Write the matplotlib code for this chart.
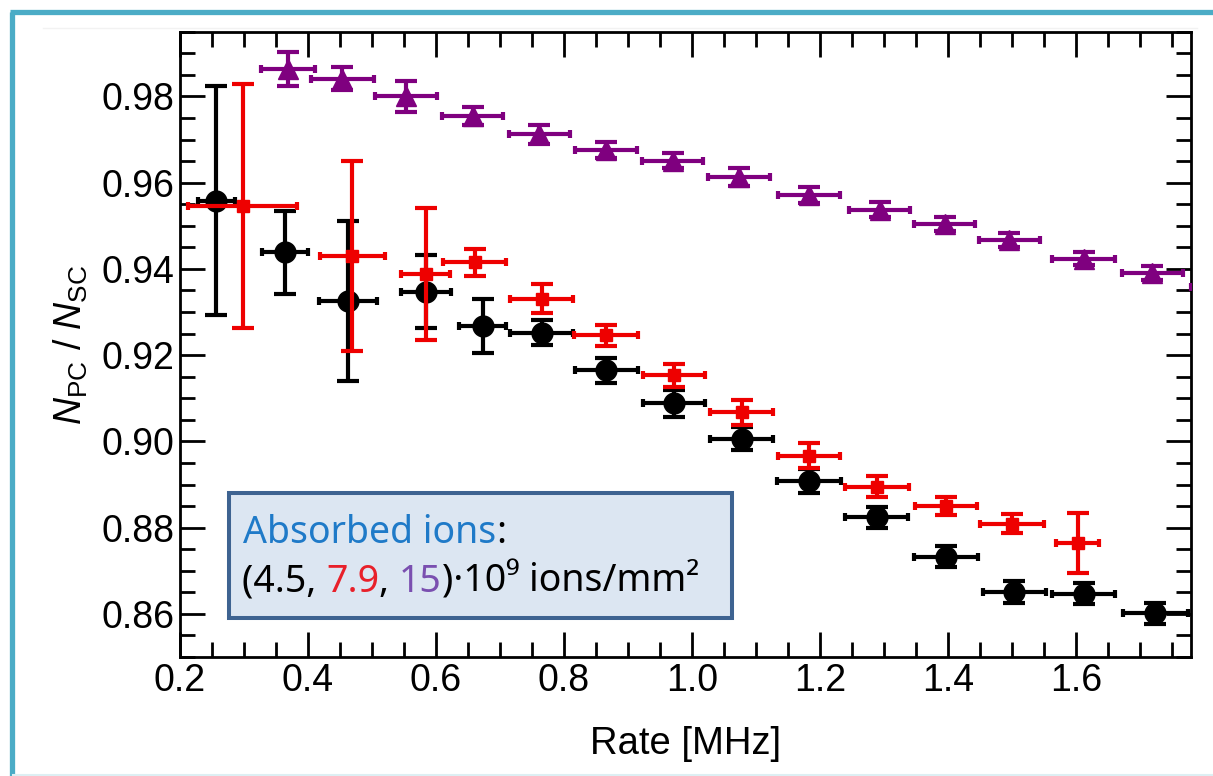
import matplotlib
matplotlib.use("Agg")
import matplotlib.pyplot as plt
from matplotlib.lines import Line2D
from matplotlib.patches import Rectangle
from matplotlib.ticker import MultipleLocator

plt.rcParams["mathtext.fontset"] = "custom"
plt.rcParams["mathtext.rm"] = "Liberation Sans"
plt.rcParams["mathtext.it"] = "Liberation Sans:italic"

# ---------------- data ----------------
black_x = [0.257, 0.364, 0.4625, 0.585, 0.673, 0.765, 0.866, 0.972, 1.078, 1.183, 1.289, 1.397, 1.504, 1.612, 1.7245]
black_y = [0.9558, 0.9438, 0.9326, 0.9347, 0.9267, 0.9252, 0.9165, 0.9088, 0.9006, 0.8908, 0.8824, 0.8733, 0.8651, 0.8647, 0.8601]
black_ye = [0.0265, 0.0096, 0.0185, 0.0085, 0.0063, 0.0029, 0.0029, 0.0032, 0.0027, 0.0027, 0.0024, 0.0024, 0.0026, 0.0024, 0.0025]
black_xe = [0.0286, 0.0365, 0.0456, 0.039, 0.037, 0.049, 0.049, 0.049, 0.049, 0.0495, 0.049, 0.0495, 0.0495, 0.049, 0.051]

red_x = [0.2977, 0.4693, 0.584, 0.6605, 0.765, 0.866, 0.972, 1.078, 1.183, 1.289, 1.397, 1.5005, 1.603]
red_y = [0.9545, 0.9430, 0.9388, 0.9415, 0.9331, 0.9246, 0.9153, 0.9068, 0.8967, 0.8895, 0.8850, 0.8809, 0.8764]
red_ye = [0.0283, 0.0221, 0.0153, 0.0031, 0.0034, 0.0025, 0.0027, 0.0029, 0.0029, 0.0024, 0.0021, 0.0022, 0.0069]
red_xe = [0.085, 0.0508, 0.0385, 0.0495, 0.049, 0.0495, 0.049, 0.049, 0.049, 0.05, 0.049, 0.05, 0.034]

purple_x = [0.3688, 0.4537, 0.5531, 0.6573, 0.7615, 0.8656, 0.9698, 1.0739, 1.1828, 1.2933, 1.3948, 1.4958, 1.612, 1.7198, 1.828]
purple_y = [0.9864, 0.9841, 0.9800, 0.9754, 0.9712, 0.9676, 0.9651, 0.9613, 0.9571, 0.9537, 0.9504, 0.9467, 0.9424, 0.9390, 0.9358]
purple_ye = [0.004, 0.0027, 0.0036, 0.0021, 0.0022, 0.0019, 0.0018, 0.0020, 0.0018, 0.0017, 0.0017, 0.0016, 0.0016, 0.0016, 0.0016]
purple_xe = [0.0425, 0.0495, 0.0487, 0.048, 0.048, 0.048, 0.048, 0.048, 0.048, 0.048, 0.048, 0.0477, 0.049, 0.047, 0.048]

x_ticks = [0.2, 0.4, 0.6, 0.8, 1.0, 1.2, 1.4, 1.6]
x_ticklabels = ["0.2", "0.4", "0.6", "0.8", "1.0", "1.2", "1.4", "1.6"]
y_ticks = [0.86, 0.88, 0.90, 0.92, 0.94, 0.96, 0.98]
y_ticklabels = ["0.86", "0.88", "0.90", "0.92", "0.94", "0.96", "0.98"]

# ---------------- figure ----------------
W, H = 1213, 776
fig = plt.figure(figsize=(W / 100, H / 100), dpi=100)
fig.patch.set_facecolor("white")

ax = fig.add_axes([180 / W, 1 - 657 / H, 1011 / W, 625.3 / H])
ax.set_xlim(0.2, 1.78)
ax.set_ylim(0.85, 0.995)

BLACK = "#000000"
RED = "#EE0000"
PURPLE = "#7F007F"
LW = 3.0

def draw_series(x, y, xe, ye, color, marker, ms, z):
    ax.errorbar(x, y, yerr=ye, fmt="none", ecolor=color, elinewidth=LW,
                capsize=8, capthick=LW, zorder=z, clip_on=True)
    ax.errorbar(x, y, xerr=xe, fmt="none", ecolor=color, elinewidth=LW,
                capsize=3, capthick=LW, zorder=z, clip_on=True)
    ax.plot(x, y, linestyle="none", marker=marker, markersize=ms, color=color,
            zorder=z + 0.5, clip_on=True)

draw_series(black_x, black_y, black_xe, black_ye, BLACK, "o", 15, 3)
draw_series(red_x, red_y, red_xe, red_ye, RED, "s", 9, 4)
draw_series(purple_x, purple_y, purple_xe, purple_ye, PURPLE, "^", 15, 5)

# ticks
tick_font = "Liberation Sans"
ax.set_xticks(x_ticks)
ax.set_xticklabels(x_ticklabels, family=tick_font)
ax.set_yticks(y_ticks)
ax.set_yticklabels(y_ticklabels, family=tick_font)
ax.xaxis.set_minor_locator(MultipleLocator(0.05))
ax.yaxis.set_minor_locator(MultipleLocator(0.005))
ax.tick_params(which="both", direction="in", top=True, right=True, width=2.0, color="black")
ax.tick_params(which="major", length=18, labelsize=27, pad=4)
ax.tick_params(which="minor", length=11)
for sp in ax.spines.values():
    sp.set_linewidth(2.0)

ax.set_xlabel("Rate [MHz]", fontsize=27.5, family=tick_font, labelpad=20)
ax.set_ylabel(r"$N_{\mathrm{PC}}$ / $N_{\mathrm{SC}}$", fontsize=27, family=tick_font, labelpad=8)

# legend-like box
box = Rectangle((229.3 / W, 1 - 618.3 / H), (731.7 - 229.3) / W, (618.3 - 492.7) / H,
                transform=fig.transFigure, facecolor="#DCE6F2", edgecolor="#3E6391",
                linewidth=2.9, zorder=10)
fig.add_artist(box)

fam = ["Noto Sans", "DejaVu Sans"]
FS = 27
renderer = fig.canvas.get_renderer()

def write_line(pieces, x0, baseline):
    x = x0
    for txt, col in pieces:
        t = fig.text(x / W, 1 - baseline / H, txt, color=col, fontsize=FS, family=fam,
                     ha="left", va="baseline", zorder=11)
        bb = t.get_window_extent(renderer)
        x = bb.x1

write_line([("Absorbed ions", "#1F7AC8"), (":", "black")], 243, 543)
write_line([("(4.5, ", "black"), ("7.9", "#E8202A"), (", ", "black"), ("15", "#7A4FB0"),
            (")·10⁹ ions/mm²", "black")], 242, 592)

# decorative border lines
teal = "#4BACC6"
fig.add_artist(Line2D([11.5 / W, 11.5 / W], [1 - 11.5 / H, 0], transform=fig.transFigure,
                      color=teal, linewidth=3.8, solid_capstyle="butt"))
fig.add_artist(Line2D([9.6 / W, 1], [1 - 11.5 / H, 1 - 11.5 / H], transform=fig.transFigure,
                      color=teal, linewidth=3.8, solid_capstyle="butt"))
fig.add_artist(Line2D([13 / W, 1], [1 - 774.5 / H, 1 - 774.5 / H], transform=fig.transFigure,
                      color="#DDEFF3", linewidth=1.5))
fig.add_artist(Line2D([43 / W, 1197 / W], [1 - 27.7 / H, 1 - 27.7 / H], transform=fig.transFigure,
                      color="#F2F2F2", linewidth=1.0))

fig.savefig("out.png", dpi=100)
